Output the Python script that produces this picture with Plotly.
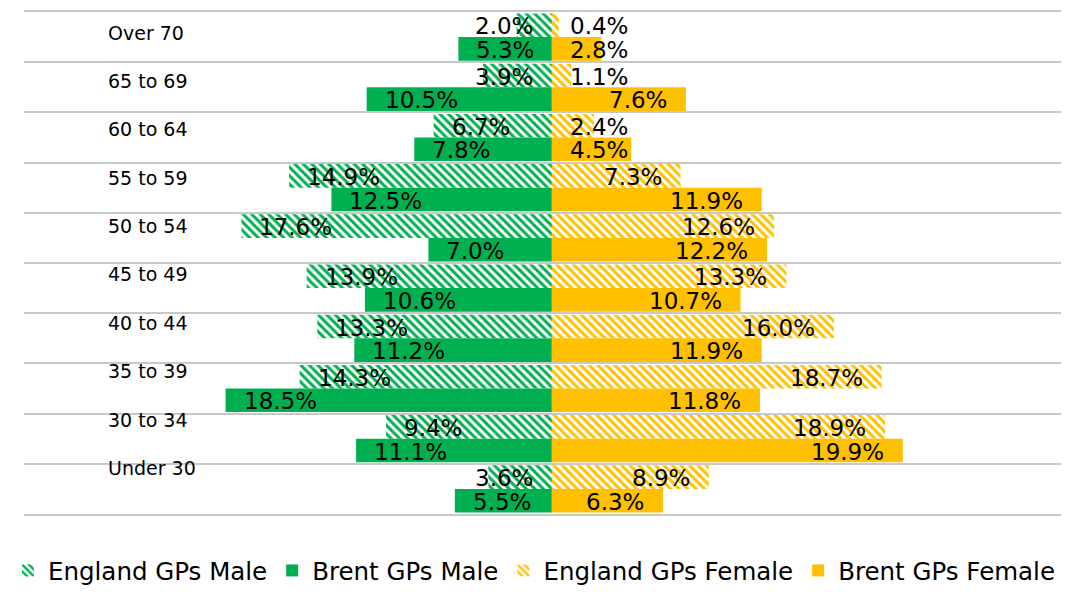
import plotly.graph_objects as go

categories = ["Over 70", "65 to 69", "60 to 64", "55 to 59", "50 to 54",
              "45 to 49", "40 to 44", "35 to 39", "30 to 34", "Under 30"]
england_male = [2.0, 3.9, 6.7, 14.9, 17.6, 13.9, 13.3, 14.3, 9.4, 3.6]
brent_male = [5.3, 10.5, 7.8, 12.5, 7.0, 10.6, 11.2, 18.5, 11.1, 5.5]
england_female = [0.4, 1.1, 2.4, 7.3, 12.6, 13.3, 16.0, 18.7, 18.9, 8.9]
brent_female = [2.8, 7.6, 4.5, 11.9, 12.2, 10.7, 11.9, 11.8, 19.9, 6.3]

GREEN = "#00B050"
YELLOW = "#FFC000"
GRID = "#C8C8C8"
FONT = "DejaVu Sans"

# the page body adds an 8px margin on every side; keep the figure inside the window
W, H = 1053, 585
ML, MR, MT, MB = 4, 0, 4, 68
XR = [-29.93, 28.87]
BARGAP = 0.06
LABEL_SIZE = 23

idx = list(range(len(categories)))
px_per_unit = (W - ML - MR) / (XR[1] - XR[0])


def pattern(color):
    return dict(shape="\\", fgcolor=color, bgcolor="white", size=6,
                solidity=0.5, fillmode="replace")


fig = go.Figure()
fig.add_trace(go.Bar(name="England GPs Male", y=idx, x=[-v for v in england_male],
                     orientation="h", offsetgroup="E",
                     marker=dict(color=GREEN, pattern=pattern(GREEN), line=dict(width=0))))
fig.add_trace(go.Bar(name="Brent GPs Male", y=idx, x=[-v for v in brent_male],
                     orientation="h", offsetgroup="B",
                     marker=dict(color=GREEN, line=dict(width=0))))
fig.add_trace(go.Bar(name="England GPs Female", y=idx, x=england_female,
                     orientation="h", offsetgroup="E",
                     marker=dict(color=YELLOW, pattern=pattern(YELLOW), line=dict(width=0))))
fig.add_trace(go.Bar(name="Brent GPs Female", y=idx, x=brent_female,
                     orientation="h", offsetgroup="B",
                     marker=dict(color=YELLOW, line=dict(width=0))))
fig.add_trace(go.Scatter(x=[None], y=[None], yaxis="y2", showlegend=False,
                         hoverinfo="skip"))


def text_width(s):
    w = 0
    for c in s:
        w += {"%": 0.95, ".": 0.318}.get(c, 0.636)
    return w * LABEL_SIZE


annotations = []
half = (1 - BARGAP) / 4
for series, sign, off in [(england_male, -1, -half), (brent_male, -1, half),
                          (england_female, 1, -half), (brent_female, 1, half)]:
    for i, v in enumerate(series):
        label = f"{v:.1f}%"
        fits = v * px_per_unit >= text_width(label) + 35
        if sign < 0:
            if fits:
                ax, anchor, shift = -v, "left", 17
            else:
                ax, anchor, shift = 0, "right", -18
        else:
            if fits:
                ax, anchor, shift = v, "right", -18
            else:
                ax, anchor, shift = 0, "left", 17
        annotations.append(dict(x=ax, y=i + off, xref="x", yref="y", text=label,
                                showarrow=False, xanchor=anchor, yanchor="middle",
                                xshift=shift, yshift=-1, borderpad=0,
                                font=dict(family=FONT, size=LABEL_SIZE, color="black")))

for i, c in enumerate(categories):
    annotations.append(dict(x=0, y=i, xref="paper", yref="y2", text=c,
                            showarrow=False, xanchor="left", yanchor="middle",
                            xshift=83, borderpad=0,
                            font=dict(family=FONT, size=19, color="black")))

fig.update_layout(
    width=W, height=H,
    margin=dict(l=ML, r=MR, t=MT, b=MB, pad=0),
    paper_bgcolor="white", plot_bgcolor="white",
    barmode="group", bargap=BARGAP, bargroupgap=0,
    font=dict(family=FONT, color="black"),
    xaxis=dict(range=XR, showgrid=False, zeroline=False, showticklabels=False,
               ticks="", fixedrange=True, showline=True, mirror=True,
               linecolor=GRID, linewidth=2),
    yaxis=dict(range=[len(categories) - 0.5, -0.5],
               tickvals=[i - 0.5 for i in range(len(categories) + 1)],
               showgrid=True, gridcolor=GRID, gridwidth=2,
               zeroline=False, showticklabels=False, ticks=""),
    yaxis2=dict(overlaying="y", range=[9.951, -0.4248], visible=False),
    showlegend=True,
    legend=dict(orientation="h", x=-0.0155, xanchor="left", y=-0.113, yanchor="middle",
                font=dict(family=FONT, size=24.5, color="black"),
                traceorder="normal", bgcolor="rgba(0,0,0,0)"),
    annotations=annotations,
)

fig.write_html("out.html")
